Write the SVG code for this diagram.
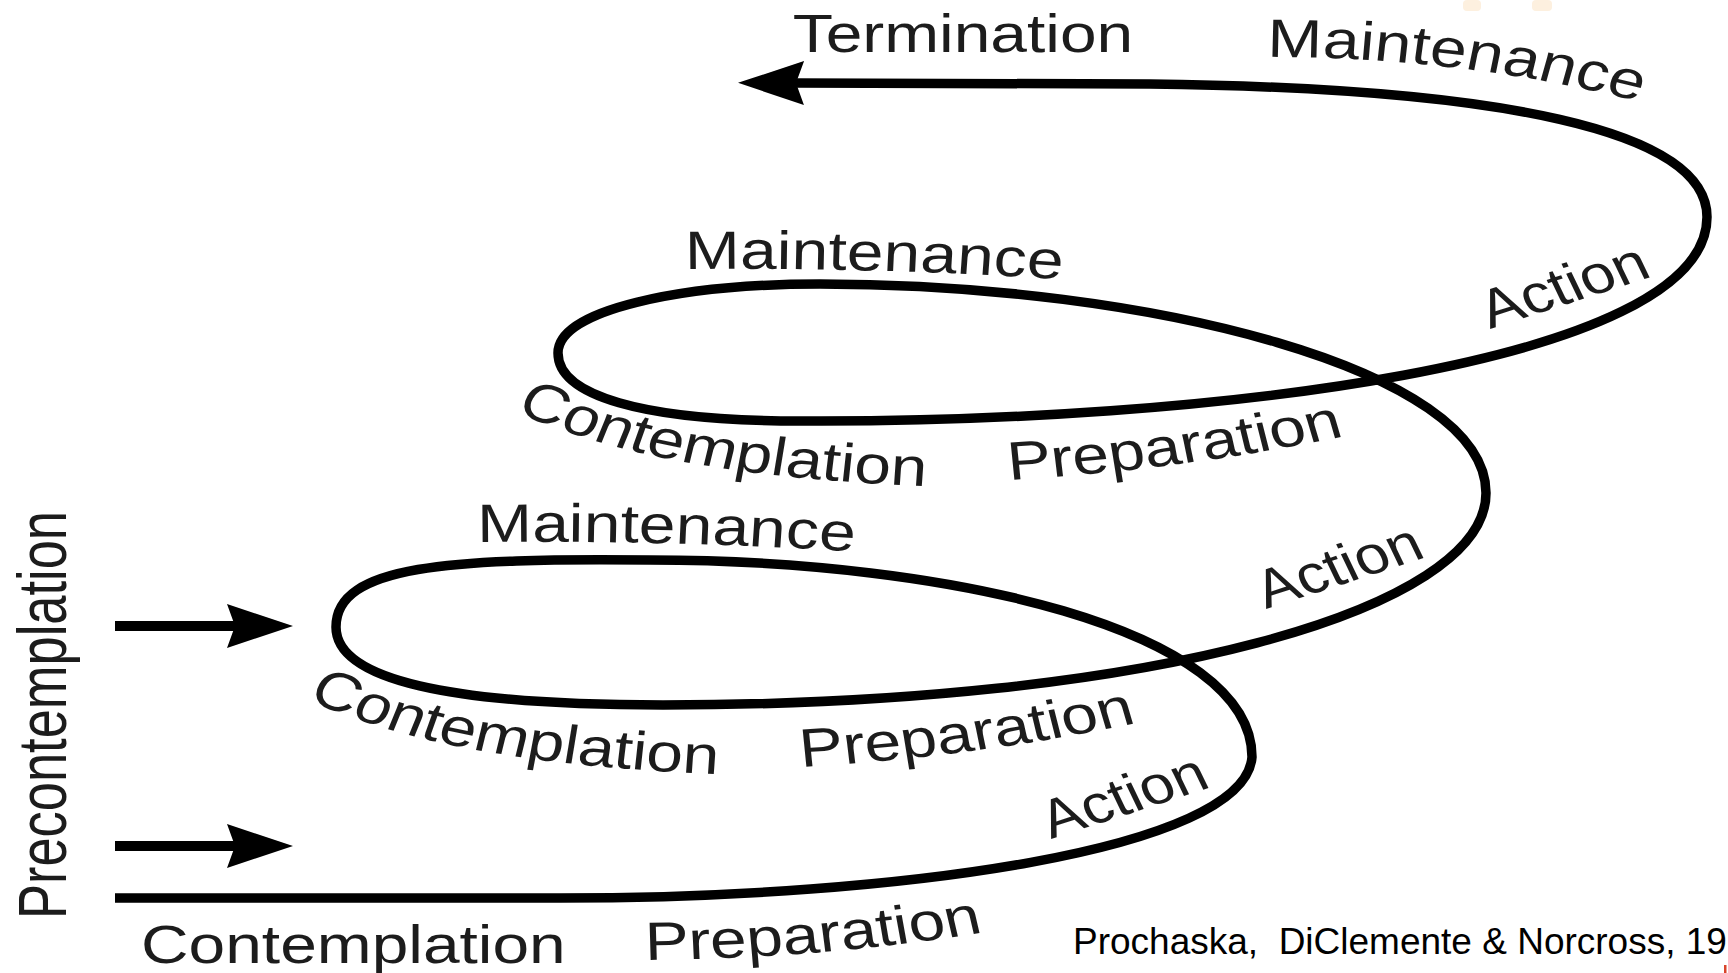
<svg xmlns="http://www.w3.org/2000/svg" width="1728" height="973" viewBox="0 0 1728 973">
<style>
.lbl{font-family:"Liberation Sans",Arial,Helvetica,sans-serif;font-size:54px;fill:#1c1c1c}
.cite{font-family:"Liberation Sans",Arial,Helvetica,sans-serif;font-size:37px;fill:#000;white-space:pre}
.spiral{fill:none;stroke:#000;stroke-width:9.5}
.arrow{fill:none;stroke:#000;stroke-width:10;marker-end:url(#head)}
</style>
<defs>
<marker id="head" markerUnits="userSpaceOnUse" viewBox="0 0 66 44" markerWidth="66" markerHeight="44" refX="8" refY="22" orient="auto">
<path d="M66,22 L0,0 L8,22 L0,44 Z" fill="#000"/>
</marker>
<path id="p-m1" d="M1038.5,57 Q1204.9,57 1350.8,104 L1388.8,116.3"/>
<path id="p-m2" d="M561.5,269 Q721.3,267 877,280 L920,284"/>
<path id="p-m3" d="M391,542 Q557.4,540 704.9,552 L750,556"/>
<path id="p-c2" d="M422,412 C478,440 557,476 758,486 L830,489"/>
<path id="p-c3" d="M251.5,700 C307.5,728 386.5,764 587.5,774 L660,777"/>
<path id="p-r2" d="M827,480 Q967.2,470 1102.5,436 L1141,426"/>
<path id="p-r3" d="M656.6,767 Q796.7,757 932,723 L972,713"/>
<path id="p-r4" d="M528.7,960 Q680.3,958 807.4,932 L846,922"/>
</defs>
<rect width="1728" height="973" fill="#fff"/>
<rect x="1463" y="0" width="18" height="11" rx="4" fill="#fdf0df"/>
<rect x="1532" y="0" width="20" height="11" rx="4" fill="#fdf0df"/>
<g id="connectors">
<path id="spiral" class="spiral" marker-end="url(#head)" d="M115,898 L560,898 C900,898 1245,850 1252,757 C1252,630 950,560 650,560 C450,558 336,565 336,627 C336,680 450,705 663,705 C1150,705 1486,610 1486,493 C1486,370 1150,284 820,284 C680,284 558,310 558,353 C558,395 640,421 800,421 C1200,423 1707,365 1707,217 C1707,130 1500,88 1150,84 L796,83"/>
<line id="arrow-upper" class="arrow" x1="115" y1="626" x2="235" y2="626"/>
<line id="arrow-lower" class="arrow" x1="115" y1="846" x2="235" y2="846"/>
</g>
<g id="label-termination" transform="scale(1.22 1)"><text class="lbl" x="649.8" y="52">Termination</text></g>
<g id="label-maintenance-top" transform="scale(1.22 1)"><text class="lbl"><textPath href="#p-m1">Maintenance</textPath></text></g>
<g id="label-action-top" transform="scale(1.22 1)"><text class="lbl" transform="translate(1221.3,329) rotate(-21.5)" textLength="144" lengthAdjust="spacingAndGlyphs">Action</text></g>
<g id="label-maintenance-upper" transform="scale(1.22 1)"><text class="lbl"><textPath href="#p-m2">Maintenance</textPath></text></g>
<g id="label-contemplation-upper" transform="scale(1.22 1)"><text class="lbl"><textPath href="#p-c2">Contemplation</textPath></text></g>
<g id="label-preparation-upper" transform="scale(1.22 1)"><text class="lbl"><textPath href="#p-r2">Preparation</textPath></text></g>
<g id="label-action-middle" transform="scale(1.22 1)"><text class="lbl" transform="translate(1037.7,609) rotate(-21.5)" textLength="142" lengthAdjust="spacingAndGlyphs">Action</text></g>
<g id="label-maintenance-lower" transform="scale(1.22 1)"><text class="lbl"><textPath href="#p-m3">Maintenance</textPath></text></g>
<g id="label-contemplation-lower" transform="scale(1.22 1)"><text class="lbl"><textPath href="#p-c3">Contemplation</textPath></text></g>
<g id="label-preparation-lower" transform="scale(1.22 1)"><text class="lbl"><textPath href="#p-r3">Preparation</textPath></text></g>
<g id="label-action-lower" transform="scale(1.22 1)"><text class="lbl" transform="translate(861.5,839) rotate(-21.5)" textLength="142" lengthAdjust="spacingAndGlyphs">Action</text></g>
<g id="label-contemplation-bottom" transform="scale(1.22 1)"><text class="lbl" x="115.6" y="963">Contemplation</text></g>
<g id="label-preparation-bottom" transform="scale(1.22 1)"><text class="lbl"><textPath href="#p-r4">Preparation</textPath></text></g>
<g id="label-precontemplation" transform="scale(1.22 1)"><text class="lbl" style="font-size:56px" transform="translate(54.1,919) rotate(-90)" textLength="408" lengthAdjust="spacingAndGlyphs">Precontemplation</text></g>
<g id="citation"><text class="cite" x="1073" y="954" xml:space="preserve">Prochaska,  DiClemente &amp; Norcross, 19</text></g>
<rect x="1724" y="965" width="2.5" height="8" fill="#d9442a"/>
</svg>
